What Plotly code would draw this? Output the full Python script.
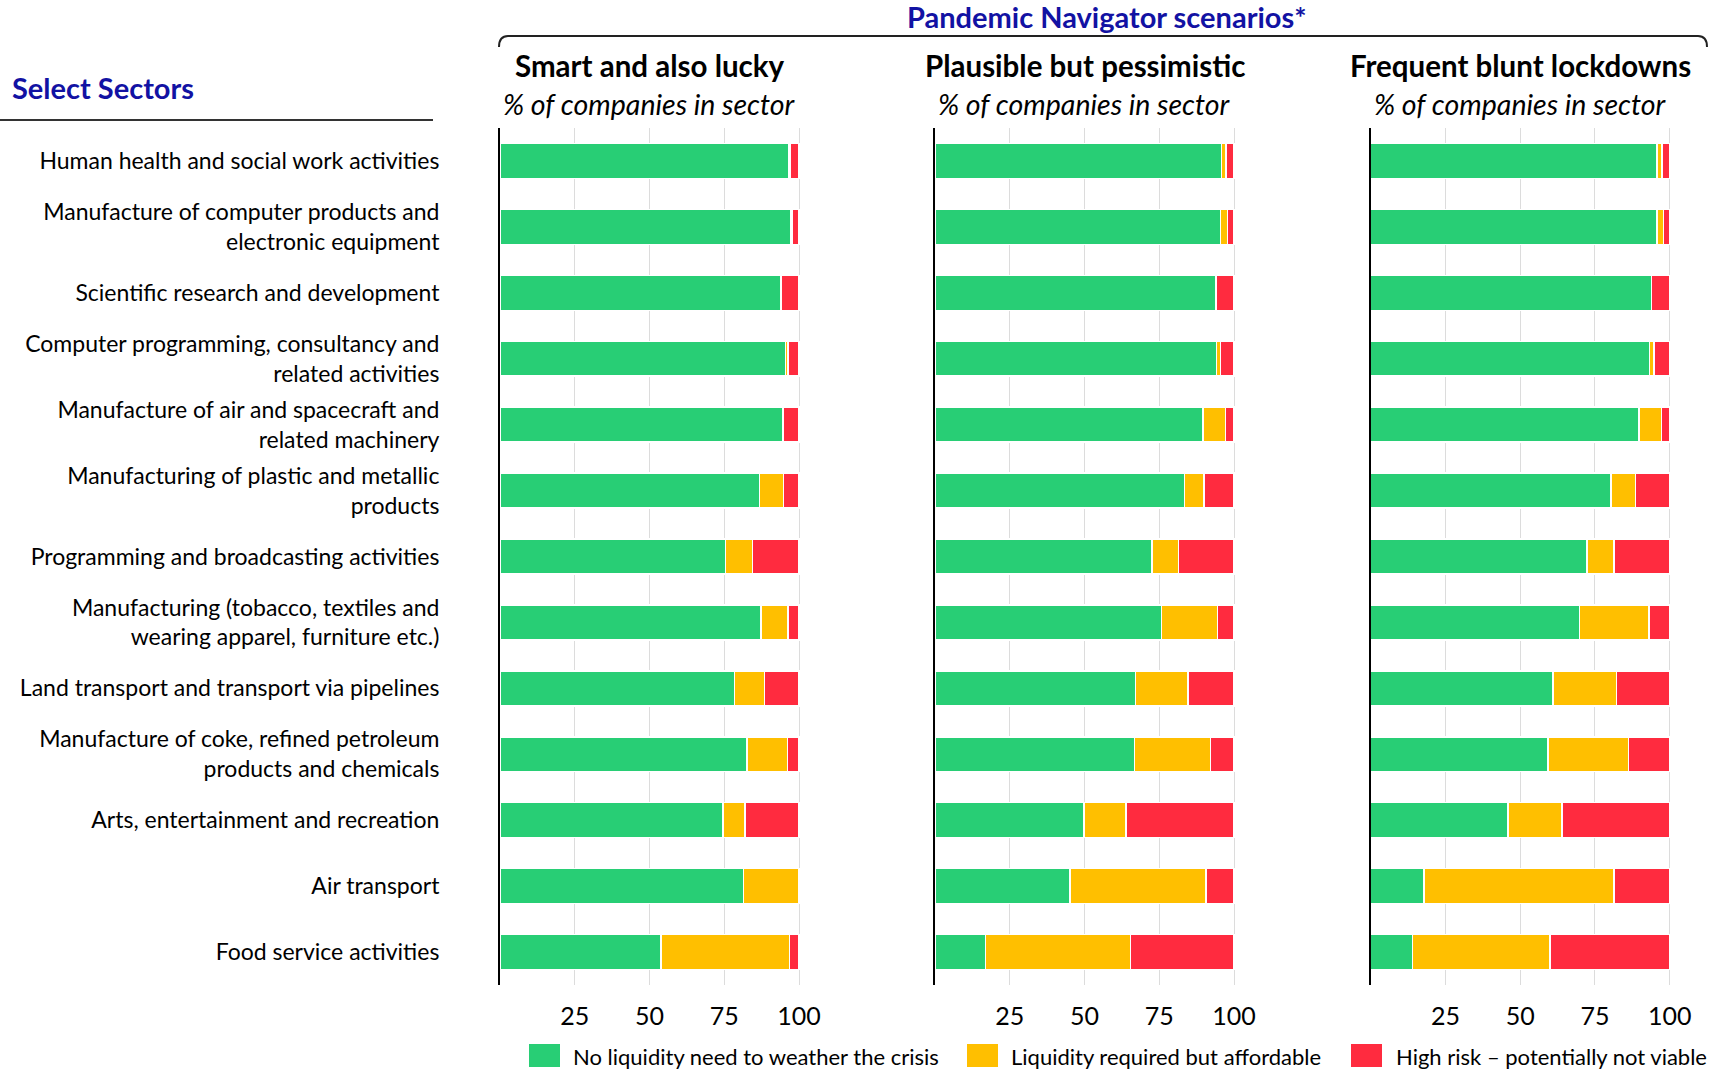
import plotly.graph_objects as go

W, H = 1709, 1069
FONT = "Lato"
BLUE = "#1212A3"

sectors = [
    "Human health and social work activities",
    "Manufacture of computer products and<br>electronic equipment",
    "Scientific research and development",
    "Computer programming, consultancy and<br>related activities",
    "Manufacture of air and spacecraft and<br>related machinery",
    "Manufacturing of plastic and metallic<br>products",
    "Programming and broadcasting activities",
    "Manufacturing (tobacco, textiles and<br>wearing apparel, furniture etc.)",
    "Land transport and transport via pipelines",
    "Manufacture of coke, refined petroleum<br>products and chemicals",
    "Arts, entertainment and recreation",
    "Air transport",
    "Food service activities",
]

scenarios = ["Smart and also lucky", "Plausible but pessimistic", "Frequent blunt lockdowns"]
series_names = [
    "No liquidity need to weather the crisis",
    "Liquidity required but affordable",
    "High risk – potentially not viable",
]
series_colors = ["#28CE75", "#FFBF00", "#FF2B3F"]
tick_vals = [25, 50, 75, 100]

smart_green = [96.7, 97.3, 94.0, 95.5, 94.6, 86.8, 75.4, 87.3, 78.4, 82.6, 74.6, 81.5, 53.8]
smart_yellow = [0.5, 0.5, 0.0, 0.8, 0.0, 8.0, 9.0, 9.0, 10.0, 13.5, 7.3, 18.5, 43.0]
smart_red = [2.8, 2.2, 6.0, 3.7, 5.4, 5.2, 15.6, 3.7, 11.6, 3.9, 18.1, 0.0, 3.2]

plausible_green = [95.9, 95.5, 94.0, 94.1, 89.6, 83.5, 72.5, 75.7, 67.1, 66.8, 49.8, 45.2, 16.9]
plausible_yellow = [1.5, 2.4, 0.0, 1.4, 7.6, 6.5, 9.0, 18.8, 17.5, 25.4, 14.1, 45.4, 48.4]
plausible_red = [2.6, 2.1, 6.0, 4.5, 2.8, 10.0, 18.5, 5.5, 15.4, 7.8, 36.1, 9.4, 34.7]

frequent_green = [95.8, 95.7, 93.9, 93.3, 89.7, 80.3, 72.4, 69.9, 60.9, 59.3, 46.0, 17.8, 13.9]
frequent_yellow = [1.6, 2.2, 0.0, 1.5, 7.5, 8.2, 9.0, 23.1, 21.3, 26.9, 18.0, 63.6, 46.0]
frequent_red = [2.6, 2.1, 6.1, 5.2, 2.8, 11.5, 18.6, 7.0, 17.8, 13.8, 36.0, 18.6, 40.1]

panel_data = [
    [smart_green, smart_yellow, smart_red],
    [plausible_green, plausible_yellow, plausible_red],
    [frequent_green, frequent_yellow, frequent_red],
]


def px(x):
    return x / W


def py(y):
    return 1 - y / H


# pixel placement of panels
x_starts = [500.0, 935.0, 1370.7]
unit = 2.99
xmax = 100.4
y_dom = [py(985), py(128)]

fig = go.Figure()

for p, vals in enumerate(panel_data):
    xa = "x" if p == 0 else f"x{p+1}"
    ya = "y" if p == 0 else f"y{p+1}"
    for s in range(3):
        fig.add_trace(go.Bar(
            y=sectors, x=vals[s], orientation="h",
            name=series_names[s],
            marker=dict(color=series_colors[s], line=dict(color="white", width=1.5)),
            xaxis=xa, yaxis=ya, showlegend=False,
            hovertemplate="%{y}: %{x}<extra>" + series_names[s] + "</extra>",
        ))

layout = dict(
    width=W, height=H, autosize=False,
    margin=dict(l=0, r=0, t=0, b=0, autoexpand=False),
    plot_bgcolor="white", paper_bgcolor="white",
    barmode="stack", bargap=0.47,
    font=dict(family=FONT, color="black"),
)

for p in range(3):
    key_x = "xaxis" if p == 0 else f"xaxis{p+1}"
    key_y = "yaxis" if p == 0 else f"yaxis{p+1}"
    x0 = x_starts[p]
    layout[key_x] = dict(
        domain=[px(x0), px(x0 + xmax * unit)],
        range=[0, xmax],
        tickvals=tick_vals, ticktext=[str(v) for v in tick_vals],
        showgrid=True, gridcolor="#DCDCDC", gridwidth=1.3,
        zeroline=False, showline=False, ticks="",
        tickfont=dict(family=FONT, size=25, color="black"),
        ticklabelstandoff=14,
        automargin=False,
        anchor="y" if p == 0 else f"y{p+1}",
        fixedrange=True,
    )
    layout[key_y] = dict(
        domain=y_dom,
        type="category",
        categoryorder="array", categoryarray=sectors,
        range=[12.5, -0.5],
        showline=True, linecolor="black", linewidth=2,
        showgrid=False, zeroline=False, ticks="",
        showticklabels=(p == 0),
        tickfont=dict(family=FONT, size=23, color="black"),
        ticklabelstandoff=54,
        automargin=False,
        anchor="x" if p == 0 else f"x{p+1}",
        fixedrange=True,
    )

fig.update_layout(**layout)

annotations = []
shapes = []

# Scenario titles
for p in range(3):
    cx = x_starts[p] + 50 * unit
    annotations.append(dict(
        x=px(cx), y=py(66), xref="paper", yref="paper",
        text="<b>" + scenarios[p] + "</b>", showarrow=False,
        font=dict(family=FONT, size=29.5, color="black"),
        xanchor="center", yanchor="middle",
    ))
    annotations.append(dict(
        x=px(cx), y=py(104), xref="paper", yref="paper",
        text="<i>% of companies in sector</i>", showarrow=False,
        font=dict(family=FONT, size=28.5, color="black"),
        xanchor="center", yanchor="middle",
    ))

annotations.append(dict(
    x=px(1106), y=py(16), xref="paper", yref="paper",
    text="<b>Pandemic Navigator scenarios*</b>", showarrow=False,
    font=dict(family=FONT, size=29, color=BLUE),
    xanchor="center", yanchor="middle",
))
annotations.append(dict(
    x=px(10), y=py(88), xref="paper", yref="paper",
    text="<b>Select Sectors</b>", showarrow=False,
    font=dict(family=FONT, size=29, color=BLUE),
    xanchor="left", yanchor="middle",
))

# underline under Select Sectors
shapes.append(dict(type="line", xref="paper", yref="paper",
                   x0=px(0), x1=px(433), y0=py(120), y1=py(120),
                   line=dict(color="#333333", width=2)))

# bracket over scenarios
bl, br_, bt, bb = 499, 1707, 36, 47
r = 9
path = (f"M {px(bl)},{py(bb)} Q {px(bl)},{py(bt)} {px(bl + r)},{py(bt)} "
        f"L {px(br_ - r)},{py(bt)} Q {px(br_)},{py(bt)} {px(br_)},{py(bb)}")
shapes.append(dict(type="path", xref="paper", yref="paper", path=path,
                   line=dict(color="#222222", width=2)))

# custom legend
leg_items = [(529, 571), (967, 1009), (1351, 1394)]
for s, (sx, tx) in enumerate(leg_items):
    shapes.append(dict(type="rect", xref="paper", yref="paper",
                       x0=px(sx), x1=px(sx + 31), y0=py(1067), y1=py(1044),
                       fillcolor=series_colors[s], line=dict(width=0)))
    annotations.append(dict(
        x=px(tx), y=py(1056), xref="paper", yref="paper",
        text=series_names[s], showarrow=False,
        font=dict(family=FONT, size=22, color="black"),
        xanchor="left", yanchor="middle",
    ))

fig.update_layout(annotations=annotations, shapes=shapes)

fig.write_html("out.html", post_script="document.body.style.margin='0';")
